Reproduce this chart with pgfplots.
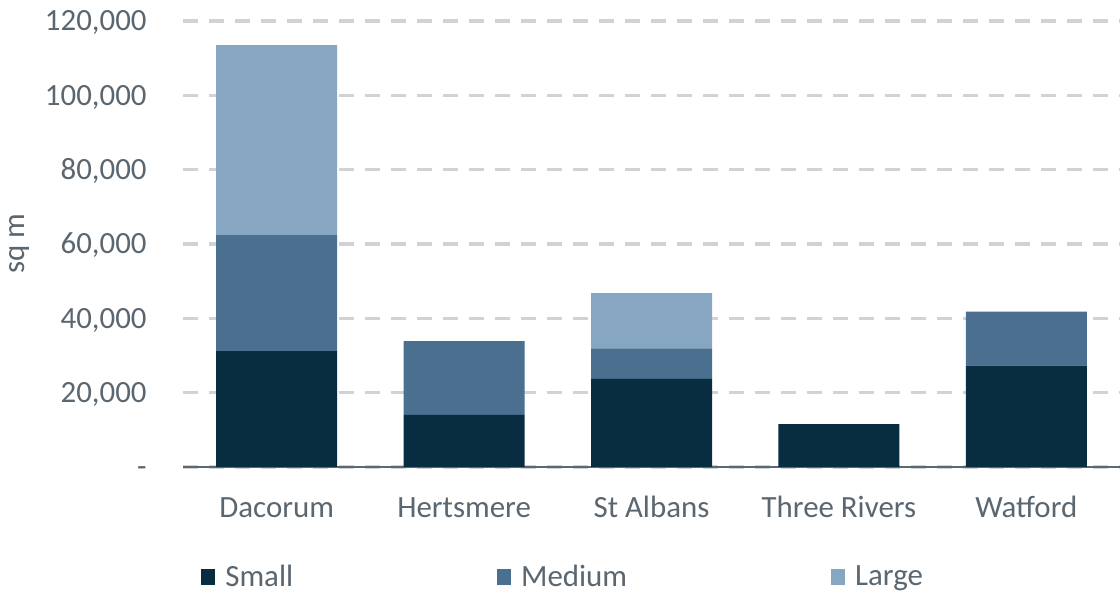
\documentclass[border=0pt]{standalone}
\usepackage{pgfplots}
\pgfplotsset{compat=1.18}
\usepackage{fontspec}
\setmainfont{Carlito}
\definecolor{cSmall}{HTML}{082C40}
\definecolor{cMed}{HTML}{4A6F8F}
\definecolor{cLarge}{HTML}{87A6C2}
\definecolor{txt}{HTML}{5A6670}
\definecolor{gridc}{HTML}{D0D3D6}
\definecolor{axl}{HTML}{5E6870}
\begin{document}
\begin{tikzpicture}
\path[use as bounding box] (0,0) rectangle (560bp,297bp);
\begin{axis}[
  at={(91.5bp,63.5bp)}, anchor=south west,
  scale only axis, width=468.5bp, height=223bp,
  ybar stacked, bar width=60.5bp,
  xmin=-0.5, xmax=4.5, ymin=0, ymax=120000,
  scaled y ticks=false,
  xtick={0,1,2,3,4},
  xticklabels={Dacorum,Hertsmere,St Albans,Three Rivers,Watford},
  ytick={0,20000,40000,60000,80000,100000,120000},
  yticklabels={{-\hspace{6bp}},{20,000},{40,000},{60,000},{80,000},{100,000},{120,000}},
  axis x line*=bottom, axis y line*=left,
  x axis line style={axl, line width=1bp, -},
  y axis line style={draw=none, -},
  major tick length=0pt,
  ymajorgrids, grid style={gridc, line width=1.6bp, dash pattern=on 7.5bp off 5.5bp},
  tick label style={font=\fontsize{15.5}{18}\selectfont, text=txt},
  xticklabel style={anchor=base, inner sep=0pt, yshift=-25bp},
  yticklabel style={anchor=base east, inner sep=0pt, xshift=-18bp, yshift=-4.9bp},
  ylabel={sq m},
  ylabel style={at={(axis description cs:-0.174,0.5)}, anchor=center, font=\fontsize{15.5}{18}\selectfont, text=txt},
  legend columns=3,
  legend style={draw=none, inner sep=0pt, anchor=west, at={(0.0192,-0.2466)},
    font=\fontsize{15.5}{18}\selectfont, text=txt,
    /tikz/every odd column/.append style={column sep=3bp},
    /tikz/every even column/.append style={column sep=100bp}},
  legend image code/.code={\fill[#1] (0bp,-3.8bp) rectangle (7bp,3.8bp);},
]
\addplot[fill=cSmall, draw=none] coordinates {(0,31200) (1,14000) (2,23700) (3,11550) (4,27300)};
\addplot[fill=cMed, draw=none] coordinates {(0,31200) (1,19900) (2,8250) (3,0) (4,14500)};
\addplot[fill=cLarge, draw=none] coordinates {(0,51100) (1,0) (2,14800) (3,0) (4,0)};
\legend{Small,Medium,Large}
\end{axis}
\end{tikzpicture}
\end{document}
